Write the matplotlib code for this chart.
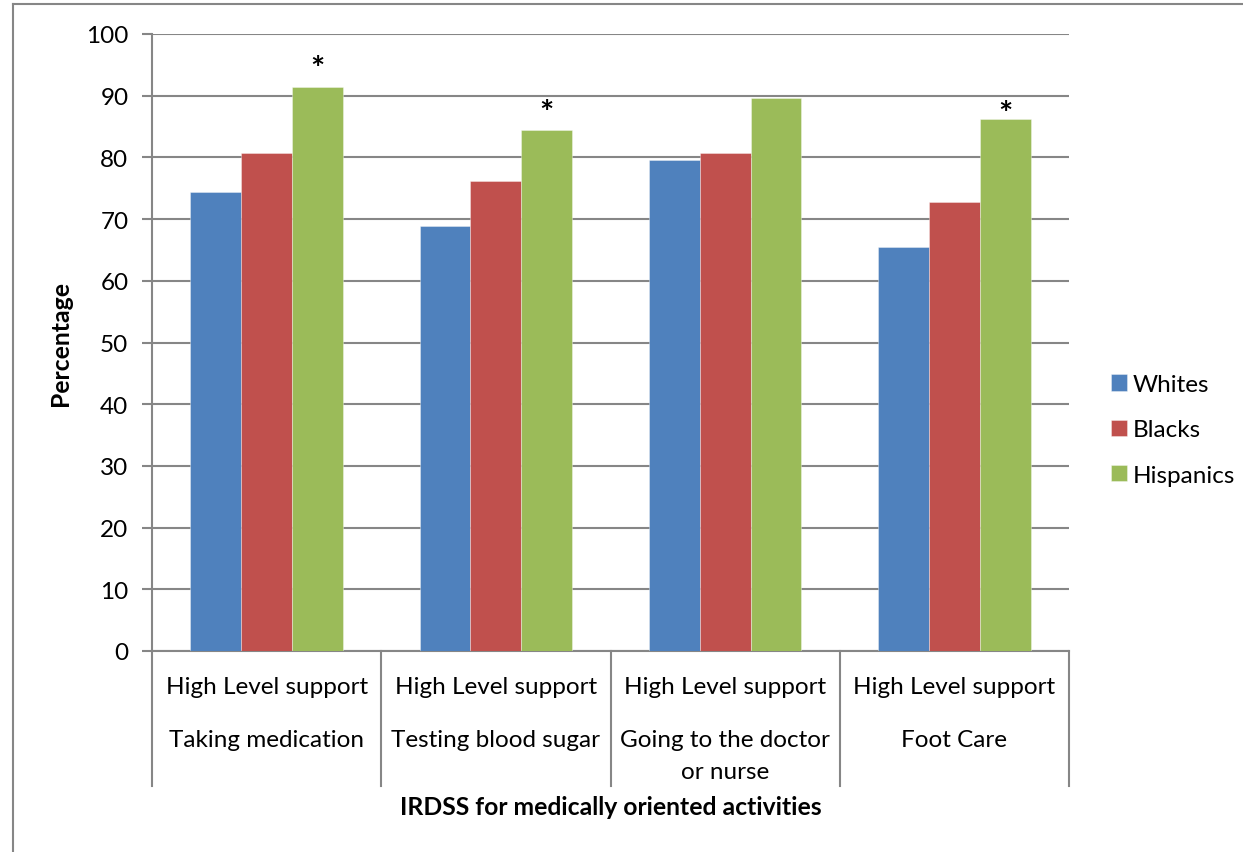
import matplotlib
matplotlib.use("Agg")
import matplotlib.pyplot as plt
import matplotlib.transforms as mtransforms
from matplotlib.lines import Line2D
import numpy as np

plt.rcParams['font.family'] = ['Lato', 'DejaVu Sans']

# ---- data ----
level1_label = "High Level support"
categories = ["Taking medication", "Testing blood sugar",
              "Going to the doctor\nor nurse", "Foot Care"]
series_names = ["Whites", "Blacks", "Hispanics"]
whites = [74.4, 68.9, 79.6, 65.4]
blacks = [80.7, 76.1, 80.7, 72.7]
hispanics = [91.4, 84.5, 89.7, 86.2]
significant = [True, True, False, True]   # asterisk above Hispanics bar
asterisk_y = [94.3, 87.1, None, 86.9]
y_ticks = [0, 10, 20, 30, 40, 50, 60, 70, 80, 90, 100]
y_label = "Percentage"
x_label = "IRDSS for medically oriented activities"

colors = ["#4F81BD", "#C0504D", "#9BBB59"]
grid_col = "#868686"
FS = 17.5

W, H = 1243, 853
fig = plt.figure(figsize=(W / 100, H / 100), dpi=100)
ax = fig.add_axes([152 / W, 1 - 652 / H, (1069 - 152) / W, (652 - 35) / H])

x = np.arange(len(categories))
bw = 0.222
for i, (vals, name, c) in enumerate(zip([whites, blacks, hispanics], series_names, colors)):
    ax.bar(x + (i - 1) * bw, vals, bw, color=c, label=name, zorder=3,
           edgecolor=(1, 1, 1, 0.5), linewidth=0.5)

for xi, sig, ay in zip(x, significant, asterisk_y):
    if sig:
        ax.text(xi + bw, ay, "*", ha="center", va="center", fontsize=24,
                fontweight="bold", zorder=4)

ax.set_xlim(-0.5, len(categories) - 0.5)
ax.set_ylim(0, 100)
ax.set_yticks(y_ticks)
ax.set_yticklabels([str(t) for t in y_ticks], fontsize=FS)
ax.tick_params(axis="y", direction="out", length=7, width=1.5, color=grid_col, pad=10)
ax.tick_params(axis="x", bottom=False, labelbottom=False)
ax.yaxis.grid(True, color=grid_col, linewidth=1.5, zorder=0)
ax.set_axisbelow(True)
for s in ["top", "right"]:
    ax.spines[s].set_visible(False)
for s in ["left", "bottom"]:
    ax.spines[s].set_color(grid_col)
    ax.spines[s].set_linewidth(1.5)

# multi-level category axis
trans = mtransforms.blended_transform_factory(ax.transData, ax.transAxes)
sep_bottom = -(787 - 652) / (652 - 35)
for b in np.arange(len(categories) + 1) - 0.5:
    ax.add_line(Line2D([b, b], [0, sep_bottom], transform=trans, color=grid_col,
                       linewidth=1.5, clip_on=False))
for xi, cat in zip(x, categories):
    ax.text(xi, -(687 - 652) / 617, level1_label, transform=trans, ha="center",
            va="center", fontsize=FS)
    ax.text(xi, -(730 - 652) / 617, cat, transform=trans, ha="center",
            va="top", fontsize=FS, linespacing=1.62)

ax.set_ylabel(y_label, fontsize=17.8, fontweight="bold", labelpad=10)
fig.text(611 / W, 1 - 808 / H, x_label, ha="center", va="center",
         fontsize=17.8, fontweight="bold")

leg = ax.legend(loc="center left", bbox_to_anchor=(1089 / W, 1 - 431 / H),
                bbox_transform=fig.transFigure, frameon=False, fontsize=FS,
                handlelength=0.66, handleheight=0.66, handletextpad=0.25,
                labelspacing=1.0)

# outer chart border (left and top visible)
fig.add_artist(Line2D([13 / W, 13 / W], [0, 1 - 5 / H], transform=fig.transFigure,
                      color=grid_col, linewidth=1.5))
fig.add_artist(Line2D([13 / W, 1], [1 - 5 / H, 1 - 5 / H], transform=fig.transFigure,
                      color=grid_col, linewidth=1.5))

fig.savefig("out.png", dpi=100, facecolor="white")
